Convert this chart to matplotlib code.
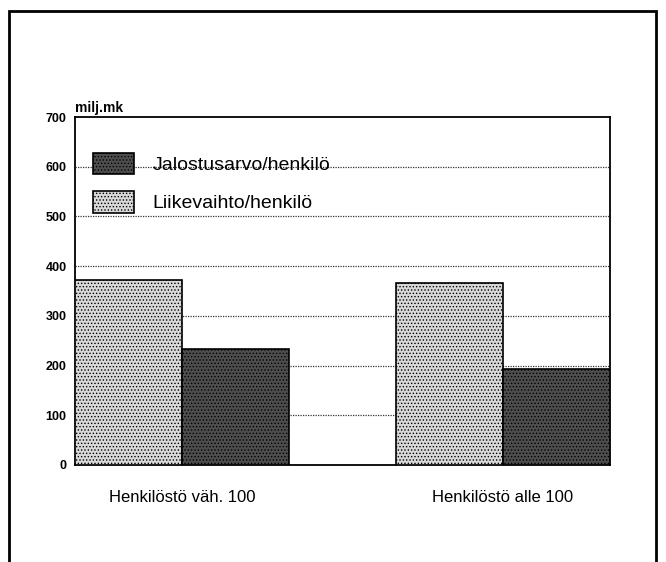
import matplotlib.pyplot as plt
from matplotlib.patches import Rectangle

plt.rcParams['font.family'] = ['Liberation Sans', 'DejaVu Sans']
plt.rcParams['hatch.linewidth'] = 0.6

# data
groups = ['Henkilöstö väh. 100', 'Henkilöstö alle 100']
liikevaihto = [372, 366]
jalostusarvo = [233, 193]
yticks = [0, 100, 200, 300, 400, 500, 600, 700]

fig = plt.figure(figsize=(6.66, 5.62), dpi=100)
ax = fig.add_axes([0.1126, 0.1726, 0.8033, 0.6192])

# each group = two bars, one empty slot between groups
pos_l = [0, 3]
pos_j = [1, 4]
b2 = ax.bar(pos_l, liikevaihto, width=1, align='edge', facecolor='#d9d9d9',
            edgecolor='black', hatch='.....', linewidth=1.2, zorder=3,
            label='Liikevaihto/henkilö')
b1 = ax.bar(pos_j, jalostusarvo, width=1, align='edge', facecolor='#4e4e4e',
            edgecolor='black', hatch='.....', linewidth=1.2, zorder=3,
            label='Jalostusarvo/henkilö')

ax.set_xlim(0, 5)
ax.set_ylim(0, 700)
ax.set_yticks(yticks)
ax.set_yticklabels([str(v) for v in yticks], fontsize=9, fontweight='bold')
ax.set_xticks([1, 4])
ax.set_xticklabels(groups, fontsize=12)
ax.tick_params(axis='y', length=0, pad=6)
ax.tick_params(axis='x', length=0, pad=18)

for v in yticks[1:-1]:
    ax.axhline(v, color='#333333', linestyle=(0, (1, 1)), linewidth=0.9, zorder=1)

for s in ax.spines.values():
    s.set_linewidth(1.3)

ax.legend(handles=[b1, b2], loc='upper left', bbox_to_anchor=(0.034, 0.898),
          frameon=False, fontsize=14, handlelength=2.1, handleheight=1.35,
          handletextpad=0.95, labelspacing=0.85, borderpad=0, borderaxespad=0)

fig.text(0.1126, 0.80, 'milj.mk', fontsize=10, fontweight='bold', va='baseline')

# outer frame
fig.patches.append(Rectangle((0.0135, -0.05), 0.9715, 1.0304, transform=fig.transFigure,
                             fill=False, edgecolor='black', linewidth=2))

fig.savefig('out.png', dpi=100)
